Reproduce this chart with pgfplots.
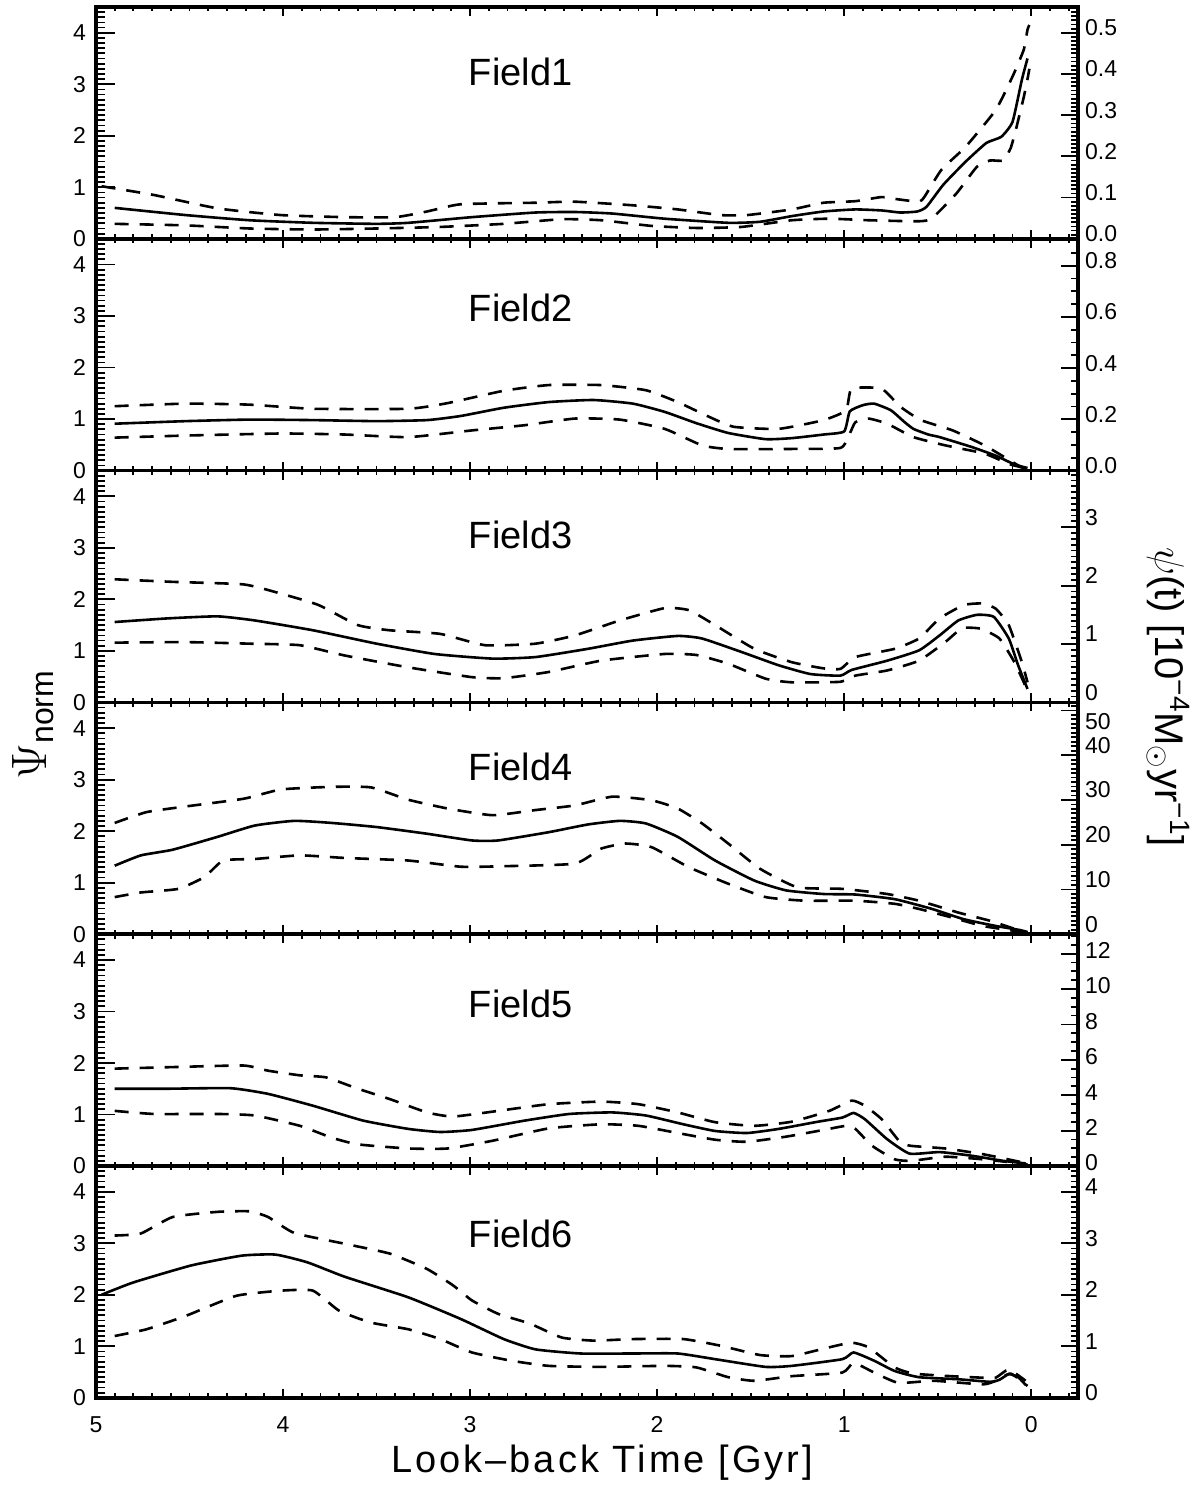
\documentclass[border=0pt]{standalone}
\usepackage{fontspec}
\setmainfont{Liberation Sans}
\newfontfamily\xlabfont[LetterSpace=8]{Liberation Sans}
\usepackage{pgfplots}
\pgfplotsset{compat=1.18}

\pgfplotsset{
  base/.style={width=491pt,height=115.9pt,scale only axis,anchor=south west,
    xmin=-0.25,xmax=5,x dir=reverse,axis line style={line width=1.8pt},
    tick align=inside,tick style={line width=0.9pt,black},
    tick label style={font=\fontsize{11.5}{11.5}\selectfont},
    /pgf/number format/assume math mode=true},
  main/.style={base,ymin=0,ymax=4.5,ytick=\empty,xtick={0,1,2,3,4,5},
    minor xtick={-0.2,-0.1,...,5.0},xtick pos=both,major tick length=4.5pt,minor tick length=2.2pt,
    xticklabels={}},
  lefty/.style={base,hide x axis,ymin=0,ymax=4.5,ytick={0,1,2,3,4},minor ytick={0,0.1,...,4.5},
    ytick pos=left,major tick length=9.5pt,minor tick length=4.5pt,
    yticklabel style={xshift=-1.5pt}},
  righty/.style={base,hide x axis,ymin=0,ytick pos=right,yticklabel pos=right,
    major tick length=8.5pt,minor tick length=3.5pt},
  onedec/.style={yticklabel style={/pgf/number format/fixed,/pgf/number format/fixed zerofill,/pgf/number format/precision=1}},
  sol/.style={black,line width=1.3pt,line join=round,smooth,tension=0.3},
  das/.style={black,line width=1.3pt,line join=round,smooth,tension=0.3,dash pattern=on 7pt off 5.5pt},
}
\newcommand{\fieldfont}{\fontsize{19}{19}\selectfont}

\begin{document}
\begin{tikzpicture}[x=1pt,y=1pt]

% ---------------- Field 1 ----------------
\begin{axis}[main,at={(48pt,624.6pt)}]
\addplot[sol] coordinates {(4.90,0.60) (4.52,0.46) (4.18,0.36) (3.84,0.31) (3.50,0.29) (3.33,0.31) (2.99,0.42) (2.65,0.51) (2.44,0.52) (2.24,0.49) (1.96,0.39) (1.62,0.31) (1.45,0.33) (1.28,0.44) (1.11,0.53) (0.94,0.57) (0.80,0.55) (0.70,0.51) (0.61,0.53) (0.56,0.62) (0.47,1.05) (0.35,1.50) (0.24,1.86) (0.16,1.98) (0.10,2.27) (0.05,3.09) (0.02,3.50)};
\addplot[das] coordinates {(4.97,1.02) (4.69,0.85) (4.35,0.59) (4.01,0.46) (3.67,0.42) (3.40,0.42) (3.23,0.53) (3.05,0.67) (2.65,0.70) (2.44,0.72) (2.13,0.65) (1.89,0.57) (1.66,0.46) (1.52,0.46) (1.28,0.57) (1.11,0.70) (0.94,0.73) (0.80,0.81) (0.72,0.77) (0.60,0.72) (0.57,0.82) (0.48,1.34) (0.35,1.79) (0.19,2.50) (0.10,3.15) (0.04,3.67) (0.02,4.06) (0.01,4.15)};
\addplot[das] coordinates {(4.90,0.29) (4.52,0.26) (4.18,0.20) (3.84,0.18) (3.50,0.20) (3.16,0.23) (2.82,0.29) (2.51,0.38) (2.30,0.36) (2.03,0.25) (1.79,0.21) (1.55,0.23) (1.28,0.36) (1.08,0.39) (0.87,0.36) (0.60,0.34) (0.53,0.40) (0.40,0.88) (0.29,1.40) (0.22,1.52) (0.15,1.52) (0.11,1.76) (0.08,2.15) (0.04,2.75) (0.02,3.10) (0.01,3.30)};
\node[font=\fieldfont] at (axis cs:2.73,3.24) {Field1};
\end{axis}
\begin{axis}[lefty,at={(48pt,624.6pt)}]\end{axis}
\begin{axis}[righty,onedec,at={(48pt,624.6pt)},ymax=0.5625,ytick={0,0.1,0.2,0.3,0.4,0.5},minor ytick={0,0.01,...,0.56},yticklabel style={yshift=2.5pt}]\end{axis}

% ---------------- Field 2 ----------------
\begin{axis}[main,at={(48pt,508.7pt)}]
\addplot[sol] coordinates {(4.90,0.91) (4.52,0.96) (4.18,0.99) (3.84,0.98) (3.50,0.96) (3.23,0.98) (3.05,1.06) (2.82,1.22) (2.58,1.33) (2.34,1.37) (2.13,1.30) (1.96,1.14) (1.79,0.92) (1.62,0.73) (1.42,0.61) (1.28,0.63) (1.11,0.70) (1.00,0.76) (0.97,1.15) (0.90,1.27) (0.84,1.30) (0.75,1.17) (0.68,0.95) (0.63,0.81) (0.55,0.70) (0.49,0.65) (0.32,0.46) (0.19,0.29) (0.09,0.12) (0.02,0.05)};
\addplot[das] coordinates {(4.90,1.25) (4.52,1.30) (4.18,1.28) (3.84,1.20) (3.33,1.20) (3.12,1.31) (2.82,1.55) (2.58,1.66) (2.30,1.66) (2.06,1.56) (1.89,1.33) (1.72,1.04) (1.59,0.85) (1.35,0.81) (1.11,0.98) (0.99,1.17) (0.96,1.59) (0.80,1.59) (0.70,1.24) (0.59,0.98) (0.42,0.78) (0.25,0.49) (0.12,0.21) (0.06,0.08) (0.02,0.03)};
\addplot[das] coordinates {(4.90,0.64) (4.52,0.68) (4.01,0.72) (3.67,0.70) (3.33,0.65) (2.99,0.78) (2.71,0.88) (2.44,1.01) (2.20,0.99) (1.96,0.81) (1.76,0.49) (1.62,0.42) (1.28,0.42) (1.02,0.44) (0.97,0.72) (0.94,0.94) (0.87,1.01) (0.77,0.91) (0.63,0.65) (0.46,0.49) (0.25,0.33) (0.12,0.13) (0.06,0.07) (0.02,0.03)};
\node[font=\fieldfont] at (axis cs:2.73,3.15) {Field2};
\end{axis}
\begin{axis}[lefty,at={(48pt,508.7pt)}]\end{axis}
\begin{axis}[righty,onedec,at={(48pt,508.7pt)},ymax=0.905,ytick={0,0.2,0.4,0.6,0.8},minor ytick={0,0.05,...,0.9},yticklabel style={yshift=2.5pt}]\end{axis}

% ---------------- Field 3 ----------------
\begin{axis}[main,at={(48pt,392.8pt)}]
\addplot[sol] coordinates {(4.90,1.56) (4.62,1.63) (4.35,1.67) (4.15,1.59) (3.84,1.40) (3.50,1.14) (3.19,0.94) (2.88,0.85) (2.65,0.88) (2.37,1.04) (2.13,1.20) (1.89,1.29) (1.76,1.24) (1.55,0.98) (1.35,0.72) (1.18,0.55) (1.02,0.52) (0.96,0.63) (0.77,0.81) (0.60,1.01) (0.49,1.30) (0.39,1.59) (0.29,1.70) (0.20,1.66) (0.12,1.24) (0.07,0.72) (0.02,0.26)};
\addplot[das] coordinates {(4.90,2.39) (4.59,2.34) (4.21,2.29) (4.01,2.11) (3.81,1.89) (3.60,1.50) (3.43,1.40) (3.16,1.33) (2.92,1.11) (2.65,1.14) (2.44,1.30) (2.20,1.59) (1.96,1.83) (1.83,1.79) (1.69,1.50) (1.48,1.04) (1.28,0.78) (1.11,0.66) (1.02,0.65) (0.94,0.88) (0.73,1.04) (0.60,1.24) (0.49,1.63) (0.36,1.89) (0.26,1.92) (0.19,1.82) (0.12,1.50) (0.05,0.78) (0.02,0.39)};
\addplot[das] coordinates {(4.90,1.16) (4.52,1.17) (4.18,1.14) (3.91,1.11) (3.67,0.91) (3.33,0.68) (2.99,0.49) (2.82,0.47) (2.58,0.59) (2.30,0.81) (1.96,0.94) (1.79,0.92) (1.62,0.75) (1.42,0.46) (1.28,0.39) (1.02,0.40) (0.94,0.52) (0.77,0.62) (0.60,0.81) (0.46,1.17) (0.37,1.44) (0.27,1.43) (0.17,1.24) (0.09,0.78) (0.02,0.23)};
\node[font=\fieldfont] at (axis cs:2.73,3.25) {Field3};
\end{axis}
\begin{axis}[lefty,at={(48pt,392.8pt)}]\end{axis}
\begin{axis}[righty,at={(48pt,392.8pt)},ymax=3.97,ytick={0,1,2,3},minor ytick={0,0.1,...,3.9},yticklabel style={yshift=5pt}]\end{axis}

% ---------------- Field 4 ----------------
\begin{axis}[main,at={(48pt,276.9pt)}]
\addplot[sol] coordinates {(4.90,1.33) (4.76,1.53) (4.59,1.64) (4.35,1.89) (4.15,2.11) (3.94,2.20) (3.74,2.16) (3.50,2.08) (3.23,1.95) (2.99,1.82) (2.85,1.82) (2.58,1.98) (2.37,2.13) (2.20,2.20) (2.06,2.15) (1.89,1.89) (1.69,1.43) (1.48,1.04) (1.31,0.85) (1.11,0.78) (0.94,0.77) (0.73,0.68) (0.53,0.49) (0.36,0.29) (0.19,0.16) (0.06,0.08) (0.02,0.04)};
\addplot[das] coordinates {(4.90,2.16) (4.73,2.37) (4.52,2.48) (4.21,2.63) (4.01,2.81) (3.74,2.86) (3.53,2.85) (3.33,2.61) (3.12,2.44) (2.88,2.31) (2.65,2.41) (2.44,2.50) (2.24,2.67) (2.03,2.60) (1.89,2.44) (1.76,2.15) (1.62,1.76) (1.45,1.27) (1.25,0.91) (1.01,0.88) (0.77,0.78) (0.60,0.65) (0.39,0.42) (0.22,0.26) (0.06,0.07) (0.02,0.04)};
\addplot[das] coordinates {(4.90,0.72) (4.76,0.81) (4.56,0.88) (4.42,1.11) (4.32,1.43) (4.15,1.46) (3.91,1.53) (3.67,1.48) (3.33,1.43) (3.05,1.31) (2.82,1.32) (2.44,1.37) (2.30,1.66) (2.17,1.76) (2.03,1.69) (1.83,1.30) (1.62,0.98) (1.42,0.72) (1.21,0.65) (0.94,0.65) (0.73,0.59) (0.60,0.49) (0.43,0.33) (0.26,0.16) (0.10,0.07) (0.02,0.03)};
\node[font=\fieldfont] at (axis cs:2.73,3.25) {Field4};
\end{axis}
\begin{axis}[lefty,at={(48pt,276.9pt)}]\end{axis}
\begin{axis}[righty,at={(48pt,276.9pt)},ymax=51.8,ytick={0,10,20,30,40},minor ytick={0,1,...,51},
  yticklabel style={yshift=5pt},
  extra y ticks={50},extra y tick style={yticklabel style={yshift=-10.5pt}}]\end{axis}

% ---------------- Field 5 ----------------
\begin{axis}[main,at={(48pt,161.0pt)}]
\addplot[sol] coordinates {(4.90,1.50) (4.62,1.50) (4.28,1.51) (4.08,1.40) (3.84,1.17) (3.57,0.88) (3.33,0.72) (3.16,0.66) (2.99,0.70) (2.71,0.88) (2.47,1.01) (2.24,1.04) (2.06,0.98) (1.86,0.81) (1.69,0.68) (1.52,0.64) (1.35,0.72) (1.14,0.86) (1.01,0.94) (0.95,1.03) (0.89,0.91) (0.77,0.52) (0.65,0.24) (0.49,0.27) (0.32,0.20) (0.15,0.10) (0.03,0.05)};
\addplot[das] coordinates {(4.90,1.89) (4.59,1.92) (4.21,1.95) (4.08,1.85) (3.91,1.76) (3.77,1.72) (3.60,1.50) (3.43,1.30) (3.23,1.04) (3.09,0.96) (2.85,1.07) (2.58,1.20) (2.30,1.25) (2.10,1.20) (1.89,1.04) (1.69,0.85) (1.48,0.78) (1.28,0.86) (1.08,1.07) (0.96,1.27) (0.89,1.17) (0.80,0.91) (0.70,0.46) (0.64,0.39) (0.46,0.34) (0.26,0.23) (0.06,0.08) (0.02,0.04)};
\addplot[das] coordinates {(4.90,1.07) (4.69,1.01) (4.35,1.01) (4.15,0.98) (3.91,0.78) (3.74,0.55) (3.60,0.42) (3.33,0.34) (3.12,0.34) (2.88,0.49) (2.58,0.73) (2.30,0.81) (2.10,0.78) (1.89,0.64) (1.69,0.51) (1.52,0.47) (1.31,0.57) (1.11,0.70) (0.99,0.78) (0.94,0.72) (0.85,0.39) (0.73,0.13) (0.64,0.10) (0.46,0.18) (0.26,0.13) (0.06,0.05) (0.02,0.03)};
\node[font=\fieldfont] at (axis cs:2.73,3.15) {Field5};
\end{axis}
\begin{axis}[lefty,at={(48pt,161.0pt)}]\end{axis}
\begin{axis}[righty,at={(48pt,161.0pt)},ymax=13.1,ytick={0,2,4,6,8,10,12},minor ytick={0,0.5,...,13},yticklabel style={yshift=1.5pt}]\end{axis}

% ---------------- Field 6 ----------------
\begin{axis}[main,at={(48pt,45.1pt)},xticklabels={0,1,2,3,4,5},xticklabel style={yshift=-6pt}]
\addplot[sol] coordinates {(4.97,2.00) (4.80,2.24) (4.49,2.57) (4.22,2.76) (4.04,2.78) (3.87,2.63) (3.67,2.35) (3.33,1.95) (3.05,1.53) (2.82,1.14) (2.65,0.94) (2.41,0.86) (2.13,0.86) (1.89,0.86) (1.69,0.75) (1.42,0.60) (1.28,0.62) (1.01,0.75) (0.95,0.88) (0.84,0.72) (0.73,0.52) (0.60,0.40) (0.39,0.36) (0.22,0.31) (0.17,0.35) (0.12,0.46) (0.07,0.40) (0.03,0.25)};
\addplot[das] coordinates {(4.90,3.15) (4.76,3.19) (4.59,3.51) (4.35,3.61) (4.18,3.62) (4.08,3.51) (3.94,3.20) (3.67,2.99) (3.43,2.80) (3.23,2.50) (3.09,2.18) (2.99,1.89) (2.85,1.63) (2.68,1.44) (2.51,1.17) (2.34,1.11) (2.13,1.14) (1.86,1.14) (1.66,1.01) (1.45,0.83) (1.28,0.81) (1.08,0.98) (0.96,1.07) (0.87,0.98) (0.73,0.59) (0.63,0.47) (0.43,0.42) (0.26,0.39) (0.19,0.39) (0.12,0.55) (0.03,0.33)};
\addplot[das] coordinates {(4.90,1.20) (4.73,1.33) (4.52,1.59) (4.25,1.98) (4.01,2.08) (3.84,2.08) (3.70,1.69) (3.53,1.46) (3.33,1.33) (3.16,1.14) (2.99,0.88) (2.78,0.72) (2.58,0.62) (2.30,0.60) (1.96,0.62) (1.79,0.59) (1.62,0.40) (1.48,0.33) (1.28,0.42) (1.01,0.49) (0.95,0.68) (0.84,0.49) (0.71,0.29) (0.52,0.33) (0.26,0.26) (0.19,0.33) (0.11,0.47) (0.02,0.23)};
\node[font=\fieldfont] at (axis cs:2.73,3.19) {Field6};
\end{axis}
\begin{axis}[lefty,at={(48pt,45.1pt)}]\end{axis}
\begin{axis}[righty,at={(48pt,45.1pt)},ymax=4.5,ytick={0,1,2,3,4},minor ytick={0,0.1,...,4.5},yticklabel style={yshift=2.5pt}]\end{axis}

% ---------------- labels ----------------
\node[rotate=90,anchor=base west,inner sep=0pt] at (23.5,354) {{\fontsize{25}{25}\selectfont$\Psi$}\raisebox{-3pt}{\fontsize{16}{16}\selectfont norm}};
\node[rotate=-90,anchor=base west,inner sep=0pt] at (577.5,470.5) {\fontsize{20}{20}\selectfont $\psi$(t) [10\textsuperscript{−4}M\textsubscript{$\odot$}yr\textsuperscript{−1}]};
\node[anchor=base,inner sep=0pt] at (301,7.5) {\fontsize{19}{19}\xlabfont\selectfont Look–back Time [Gyr]};

\pgfresetboundingbox
\path (0,0) rectangle (600,744);
\end{tikzpicture}
\end{document}
